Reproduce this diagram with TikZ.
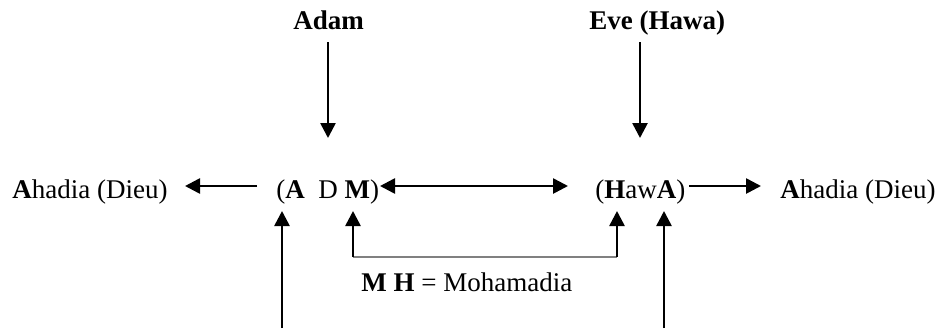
\documentclass[tikz,border=0pt]{standalone}
\usepackage{fontspec}
\setmainfont{Liberation Serif}
\usetikzlibrary{arrows.meta}
\begin{document}
\begin{tikzpicture}[x=0.5pt,y=-0.5pt,
  lbl/.style={inner sep=0pt,anchor=base west,font=\fontsize{13.5}{16}\selectfont},
  conn/.style={line width=1.3pt,-{Triangle[length=7.5pt,width=7.5pt]}},
  dconn/.style={line width=1.3pt,{Triangle[length=7.5pt,width=7.5pt]}-{Triangle[length=7.5pt,width=7.5pt]}},
  thinline/.style={line width=0.6pt,draw=gray}]
\useasboundingbox (0,0) rectangle (935,328);
% texts
\node[lbl] (adam) at (293,29) {\textbf{Adam}};
\node[lbl] (eve) at (589,29) {\textbf{Eve (Hawa)}};
\node[lbl] (ahL) at (12,198) {\textbf{A}hadia (Dieu)};
\node[lbl] (adm) at (276,198) {(\textbf{A}\ \ D \textbf{M})};
\node[lbl] (hawa) at (595,198) {(\textbf{H}aw\textbf{A})};
\node[lbl] (ahR) at (780,198) {\textbf{A}hadia (Dieu)};
\node[lbl] (mh) at (361,291) {\textbf{M H} = Mohamadia};
% coordinates
\coordinate (adamT) at (328,42);   \coordinate (adamH) at (328,138);
\coordinate (eveT) at (640,42);    \coordinate (eveH) at (640,138);
\coordinate (lT) at (257,186);     \coordinate (lH) at (185,186);
\coordinate (dL) at (380,186);     \coordinate (dR) at (568,186);
\coordinate (rT) at (689,186);     \coordinate (rH) at (761,186);
\coordinate (aB) at (282,328);     \coordinate (aH) at (282,211);
\coordinate (mB) at (353,257);     \coordinate (mH) at (353,211);
\coordinate (hB) at (617,257);     \coordinate (hH) at (617,211);
\coordinate (a2B) at (664,328);    \coordinate (a2H) at (664,211);
% connectors
\draw[conn] (adamT) -- (adamH);
\draw[conn] (eveT) -- (eveH);
\draw[conn] (lT) -- (lH);
\draw[dconn] (dL) -- (dR);
\draw[conn] (rT) -- (rH);
\draw[conn] (aB) -- (aH);
\draw[conn] (a2B) -- (a2H);
\draw[thinline] (mB) -- (hB);
\draw[conn] (mB) -- (mH);
\draw[conn] (hB) -- (hH);
\end{tikzpicture}
\end{document}
